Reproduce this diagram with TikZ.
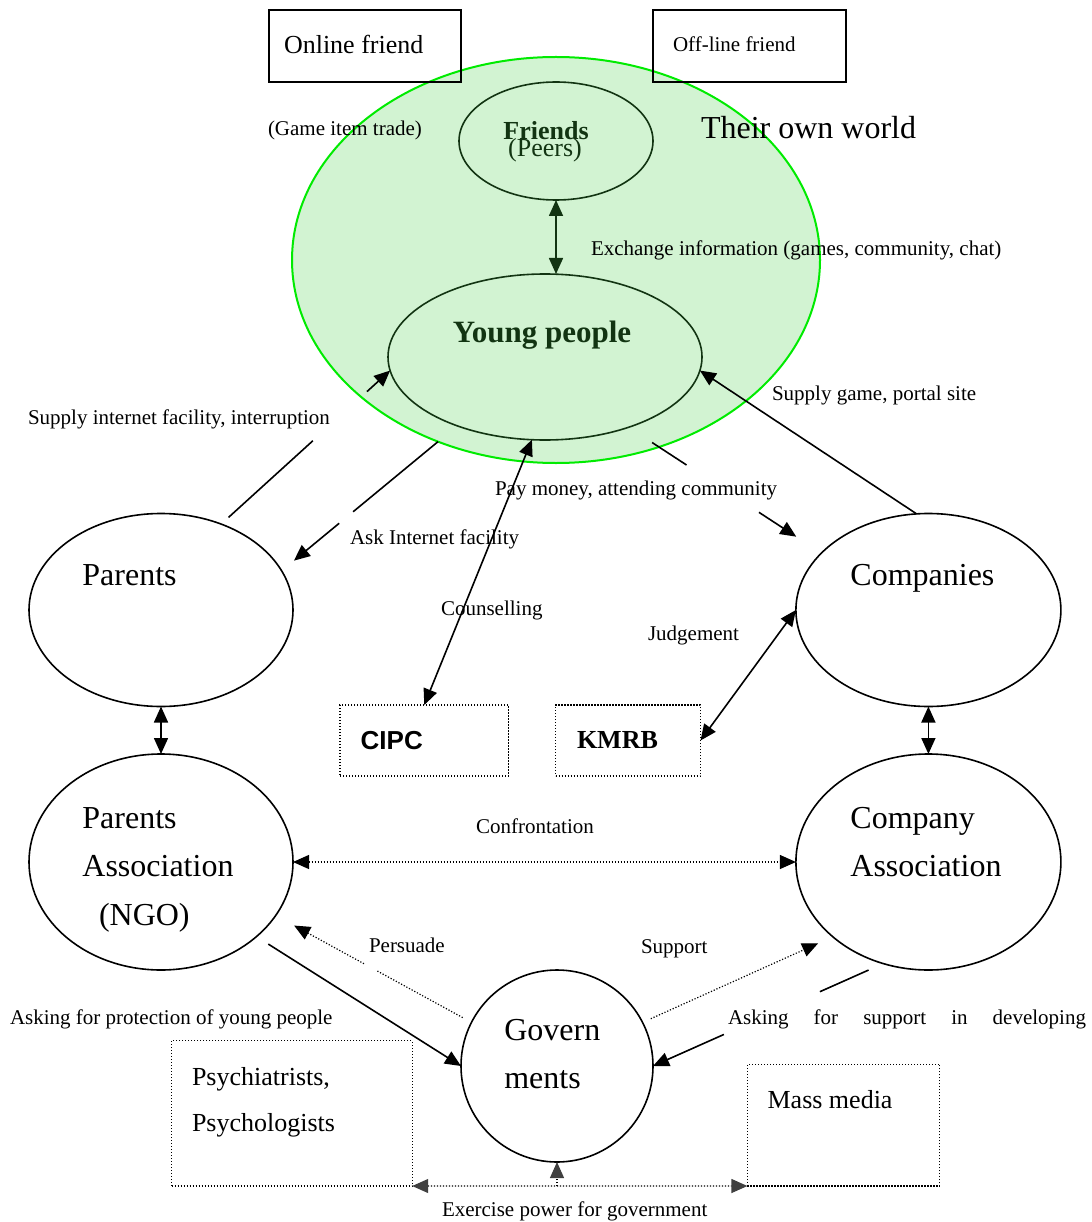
\documentclass[tikz,border=0pt]{standalone}
\usepackage{fontspec}
\setmainfont{Liberation Serif}
\newfontfamily\sansbold{Liberation Sans}
\usetikzlibrary{shapes.geometric,arrows.meta,calc}

\definecolor{worldline}{RGB}{0,235,0}
\definecolor{worldfill}{RGB}{210,243,210}
\definecolor{inkgreen}{RGB}{18,52,18}
\definecolor{tipgray}{RGB}{64,64,64}

\newcommand{\fslabel}{\fontsize{21}{25}\selectfont}
\newcommand{\fsmid}{\fontsize{26}{31}\selectfont}
\newcommand{\fsyoung}{\fontsize{31}{37}\selectfont}
\newcommand{\fsbig}{\fontsize{32}{38}\selectfont}

\begin{document}
\begin{tikzpicture}[x=1pt,y=-1pt,
  every node/.style={inner sep=0pt, outer sep=0pt},
  actor/.style={ellipse, draw, line width=1.6pt},
  solidbox/.style={rectangle, draw, line width=1.7pt},
  dotbox/.style={rectangle, draw, line width=1.2pt, dash pattern=on 1.2pt off 1.8pt},
  conn/.style={line width=1.6pt},
  dotconn/.style={line width=1.2pt, dash pattern=on 1.2pt off 1.8pt},
  >={Triangle[length=16pt,width=14pt]},
  graytips/.style={>={Triangle[length=16pt,width=14pt,color=tipgray]}},
  lbl/.style={anchor=base west, font=\fslabel},
  midtext/.style={anchor=base west, font=\fsmid},
  bigtext/.style={anchor=base west, font=\fsbig}
]
\useasboundingbox (0,0) rectangle (1091,1222);

% the young people's own world
\node[ellipse, draw=worldline, fill=worldfill, line width=2pt,
      minimum width=528pt, minimum height=406pt] (world) at (556,260) {};

% friend boxes
\node[solidbox, minimum width=192pt, minimum height=72pt] (online) at (365,46) {};
\node[solidbox, minimum width=193pt, minimum height=72pt] (offline) at (749.5,46) {};
\node[midtext] (t-online) at (284,54) {Online friend};
\node[lbl] (t-offline) at (673,52) {Off-line friend};

% actors
\node[actor, draw=inkgreen, minimum width=194pt, minimum height=118pt] (friends) at (556,141) {};
\node[actor, draw=inkgreen, minimum width=314pt, minimum height=166pt] (young) at (545,357) {};
\node[actor, minimum width=264pt, minimum height=193pt] (parents) at (161,610) {};
\node[actor, minimum width=265pt, minimum height=193pt] (companies) at (928.4,610) {};
\node[actor, minimum width=264pt, minimum height=216pt] (passoc) at (161,862) {};
\node[actor, minimum width=265pt, minimum height=216pt] (cassoc) at (928.4,862) {};
\node[circle, draw, line width=1.6pt, minimum size=192pt] (gov) at (557,1066) {};

% dotted boxes
\node[dotbox, minimum width=168.5pt, minimum height=71pt] (cipc) at (424.25,740.5) {};
\node[dotbox, minimum width=145pt, minimum height=71pt] (kmrb) at (628,740.5) {};
\node[dotbox, minimum width=240.7pt, minimum height=145.3pt] (psych) at (291.85,1113.35) {};
\node[dotbox, minimum width=192.4pt, minimum height=121.7pt] (media) at (843.6,1125.15) {};

% texts of the actors and boxes
\node[anchor=base, font=\fsmid\bfseries, text=inkgreen] (t-friends) at (546,140) {Friends};
\node[anchor=base, font=\fsmid, text=inkgreen] (t-peers) at (545,157) {(Peers)};
\node[anchor=base, font=\fsyoung\bfseries, text=inkgreen] (t-young) at (542,342) {Young people};
\node[bigtext] (t-parents) at (82.4,585) {Parents};
\node[bigtext] (t-companies) at (850.4,585) {Companies};
\node[bigtext] (t-pa1) at (82.4,828) {Parents};
\node[bigtext] (t-pa2) at (82.4,876.7) {Association};
\node[bigtext] (t-pa3) at (99,925) {(NGO)};
\node[bigtext] (t-ca1) at (850.4,828) {Company};
\node[bigtext] (t-ca2) at (850.4,876.7) {Association};
\node[bigtext] (t-gov1) at (504.3,1040) {Govern};
\node[bigtext] (t-gov2) at (504.3,1088.3) {ments};
\node[anchor=base west, font=\fsmid\sansbold\bfseries] (t-cipc) at (360.7,749.3) {CIPC};
\node[anchor=base west, font=\fsmid\bfseries] (t-kmrb) at (577,748.3) {KMRB};
\node[midtext] (t-psych1) at (192,1085) {Psychiatrists,};
\node[midtext] (t-psych2) at (192,1131.7) {Psychologists};
\node[midtext] (t-media) at (767.6,1108.3) {Mass media};

% labels
\node[lbl] (l-trade) at (268,136) {(Game item trade)};
\node[bigtext] (l-world) at (701,139) {Their own world};
\node[lbl] (l-exchange) at (591,256) {Exchange information (games, community, chat)};
\node[lbl] (l-supplynet) at (28,424) {Supply internet facility, interruption};
\node[lbl] (l-ask) at (350,544) {Ask Internet facility};
\node[lbl] (l-supplygame) at (772,400) {Supply game, portal site};
\node[lbl] (l-pay) at (495,495) {Pay money, attending community};
\node[lbl] (l-counsel) at (441,615) {Counselling};
\node[lbl] (l-judge) at (648,640) {Judgement};
\node[lbl] (l-confront) at (476,833) {Confrontation};
\node[lbl] (l-persuade) at (369,952) {Persuade};
\node[lbl] (l-support) at (641,953) {Support};
\node[lbl] (l-protect) at (10,1024) {Asking for protection of young people};
\node[lbl] (l-develop) at (728,1024) {\makebox[358pt][s]{Asking for support in developing}};
\node[lbl] (l-power) at (442,1216) {Exercise power for government};

% connectors
\draw[conn, color=inkgreen, <->] (friends.south) -- (friends.south |- young.north);

\draw[conn, shorten <=10pt] (parents.55) -- ($(parents.55)!0.543!(young.185)$);
\draw[conn, ->] ($(parents.55)!0.863!(young.185)$) -- (young.185);

\draw[conn] (world.237) -- ($(world.237)!0.543!(parents.18)$);
\draw[conn, ->, shorten >=16pt] ($(world.237)!0.632!(parents.18)$) -- (parents.18);

\draw[conn, shorten <=28pt] (young.320) -- ($(young.320)!0.30!(companies.152)$);
\draw[conn, ->, shorten >=30pt] ($(young.320)!0.676!(companies.152)$) -- (companies.152);

\draw[conn, ->] (companies.97) -- (young.355);
\draw[conn, <->] (cipc.north) -- (young.261);
\draw[conn, <->] (kmrb.east) -- (companies.west);

\draw[conn, <->] (parents.south) -- (passoc.north);
\draw[conn, <->] (companies.south) -- (cassoc.north);

\draw[dotconn, <->] (passoc.east) -- (cassoc.west);

\draw[dotconn, shorten <=10pt] (gov.153) -- ($(gov.153)!0.481!(passoc.335)$);
\draw[dotconn, ->, shorten >=21pt] ($(gov.153)!0.549!(passoc.335)$) -- (passoc.335);

\draw[conn, ->, shorten <=14pt] (passoc.322) -- (gov.west);

\draw[dotconn, ->, shorten <=9pt, shorten >=16pt] (gov.27) -- (cassoc.218);

\draw[conn, shorten <=16pt] (cassoc.246) -- ($(cassoc.246)!0.275!(gov.east)$);
\draw[conn, ->] ($(cassoc.246)!0.692!(gov.east)$) -- (gov.east);

\draw[dotconn, graytips, <->] (psych.south east) -- (media.south west);
\draw[dotconn, graytips, ->] (gov.south |- psych.south east) -- (gov.south);
\end{tikzpicture}
\end{document}
